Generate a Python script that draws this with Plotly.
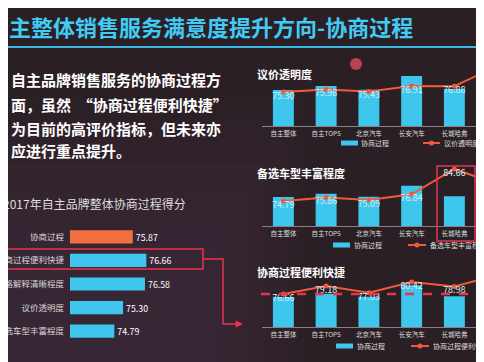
import plotly.graph_objects as go

W, H = 484, 362
def px(x): return x / W
def py(y): return 1 - y / H

FONT = "Noto Sans CJK SC"
BG = "#2a1f24"
CYAN = "#3ec6ec"
ORANGE = "#f07040"
LINE = "#f05a3a"
RED = "#e8334f"
LBL = "#d2f1fa"

# ---------------- data ----------------
left_cats = ["协商过程", "协商过程便利快捷", "价格解释清晰程度", "议价透明度", "备选车型丰富程度"]
left_vals = [75.87, 76.66, 76.58, 75.30, 74.79]

brands = ["自主整体", "自主TOP5", "北京汽车", "长安汽车", "长城哈弗", "广汽传祺"]
brand_process = [75.87, 76.52, 75.90, 78.16, 76.04, 80.28]      # 协商过程 (bars)
price_transparency = [75.30, 75.98, 75.43, 76.91, 76.88, 82.30]  # 议价透明度
model_richness = [74.79, 75.86, 75.09, 76.84, 84.66, 80.00]      # 备选车型丰富程度
convenience = [76.66, 79.18, 77.03, 80.42, 78.98, 82.60]         # 协商过程便利快捷

bar_series_name = "协商过程"
panel_titles = ["议价透明度", "备选车型丰富程度", "协商过程便利快捷"]
panel_lines = [price_transparency, model_richness, convenience]

fig = go.Figure()

# ---------------- left horizontal bar chart ----------------
fig.add_trace(go.Bar(
    x=left_vals, y=left_cats, orientation="h",
    marker=dict(color=[ORANGE] + [CYAN] * 4, line=dict(width=0)),
    width=0.56,
    text=[f"{v:.2f}" for v in left_vals], textposition="outside",
    textfont=dict(color="white", size=10, family=FONT),
    cliponaxis=False, showlegend=False, xaxis="x", yaxis="y",
))

# ---------------- right panels ----------------
panels = [("x2", "y2", "y3"), ("x3", "y4", "y5"), ("x4", "y6", "y7")]
for (xa, yb, yl), title, vals in zip(panels, panel_titles, panel_lines):
    fig.add_trace(go.Bar(
        x=list(range(len(brands))), y=brand_process, name=bar_series_name,
        marker=dict(color=CYAN, line=dict(width=0)), width=0.49,
        xaxis=xa, yaxis=yb, showlegend=False,
    ))
    fig.add_trace(go.Scatter(
        x=list(range(len(brands))), y=vals, name=title, mode="lines+markers",
        line=dict(color=LINE, width=2), marker=dict(color=LINE, size=5),
        xaxis=xa, yaxis=yl, showlegend=False,
    ))
    fig.add_trace(go.Scatter(
        x=list(range(len(brands))), y=vals, mode="text",
        text=[f"{v:.2f}" for v in vals], textposition="bottom center",
        textfont=dict(color=LBL, size=9, family=FONT),
        xaxis=xa, yaxis=yl, showlegend=False,
    ))

layout_axes = {}
layout_axes["xaxis"] = dict(domain=[px(62), px(240)], range=[72.2, 82.6], visible=False,
                            anchor="y", automargin=False)
layout_axes["yaxis"] = dict(domain=[py(335), py(217)], anchor="x", autorange="reversed",
                            showgrid=False, showline=False, zeroline=False, ticks="",
                            ticklabelstandoff=5, automargin=False,
                            tickfont=dict(size=8.5, color="#d8d8d8", family=FONT))

panel_geom = [  # (top px, baseline px, bar range, line range)
    (52, 118, [70, 80.77], [66.11, 83.95]),
    (155, 218, [70, 82.75], [67.07, 86.50]),
    (258, 319, [70, 81.94], [66.31, 85.43]),
]
for (xa, yb, yl), (top, base, br, lr) in zip(panels, panel_geom):
    layout_axes["xaxis" + xa[1:]] = dict(
        domain=[px(254), 1], range=[-0.5, 4.88], anchor=yb, automargin=False,
        tickmode="array", tickvals=list(range(len(brands))), ticktext=brands,
        showline=True, linecolor="#8a8088", linewidth=1, showgrid=False,
        zeroline=False, ticks="", ticklabelstandoff=1,
        tickfont=dict(size=6.5, color="#dcdcdc", family=FONT))
    layout_axes["yaxis" + yb[1:]] = dict(domain=[py(base), py(top)], range=br, visible=False,
                                         anchor=xa, automargin=False)
    layout_axes["yaxis" + yl[1:]] = dict(overlaying=yb, range=lr, visible=False, anchor=xa,
                                         side="right", automargin=False)

annotations = [
    dict(text="<b>主整体销售服务满意度提升方向-协商过程</b>", x=px(-1), y=py(18),
         xanchor="left", yanchor="middle", font=dict(size=22, color="#42cbf2", family=FONT)),
    dict(text="2017年自主品牌整体协商过程得分", x=px(-7), y=py(196), xanchor="left", yanchor="middle",
         font=dict(size=12, color="#dedede", family=FONT)),
]
para = ["自主品牌销售服务的协商过程方", "面，虽然  “协商过程便利快捷”", "为目前的高评价指标，但未来亦", "应进行重点提升。"]
for t, yy in zip(para, [72, 96, 120, 143]):
    annotations.append(dict(text=f"<b>{t}</b>", x=px(1), y=py(yy), xanchor="left", yanchor="middle",
                            font=dict(size=15, color="white", family=FONT)))
for t, yy in zip(panel_titles, [66, 165, 264]):
    annotations.append(dict(text=f"<b>{t}</b>", x=px(247), y=py(yy), xanchor="left", yanchor="middle",
                            font=dict(size=11, color="white", family=FONT)))
for yy in [128, 230, 330]:
    annotations.append(dict(text=brands[-1], x=px(490), y=py(yy), xanchor="center", yanchor="middle",
                            font=dict(size=6.5, color="#dcdcdc", family=FONT)))

shapes = []
# soft purple tint toward the lower-left of the photographed slide
for i in range(8):
    shapes.append(dict(type="rect", xref="paper", yref="paper", layer="below",
                       x0=-0.01, x1=px(300 - i * 14), y0=-0.01, y1=py(90 + i * 22),
                       fillcolor="#4a3552", opacity=0.08, line=dict(width=0)))

# legends (drawn per panel): (bar symbol x0, bar text x, line x0, line x1, line text x, y)
legend_geom = [(333, 351, 415, 432, 434, 135), (325, 344, 400, 418, 420, 237), (328, 347, 403, 421, 423, 338)]
for (bx, btx, lx0, lx1, ltx, ly), title in zip(legend_geom, panel_titles):
    shapes.append(dict(type="rect", xref="paper", yref="paper", x0=px(bx), x1=px(bx + 17),
                       y0=py(ly + 2.5), y1=py(ly - 2.5), fillcolor=CYAN, line=dict(width=0)))
    shapes.append(dict(type="line", xref="paper", yref="paper", x0=px(lx0), x1=px(lx1),
                       y0=py(ly), y1=py(ly), line=dict(color=LINE, width=2)))
    cx = (lx0 + lx1) / 2
    shapes.append(dict(type="circle", xref="paper", yref="paper", x0=px(cx - 2.5), x1=px(cx + 2.5),
                       y0=py(ly + 2.5), y1=py(ly - 2.5), fillcolor=LINE, line=dict(width=0)))
    annotations.append(dict(text=bar_series_name, x=px(btx), y=py(ly), xanchor="left", yanchor="middle",
                            font=dict(size=7, color="#dcdcdc", family=FONT)))
    annotations.append(dict(text=title, x=px(ltx), y=py(ly), xanchor="left", yanchor="middle",
                            font=dict(size=7, color="#dcdcdc", family=FONT)))

for a in annotations:
    a.update(xref="paper", yref="paper", showarrow=False)

def P(x, y): return f"{px(x):.5f},{py(y):.5f}"

shapes += [
    dict(type="line", xref="paper", yref="paper", x0=0, x1=1, y0=py(39), y1=py(39),
         line=dict(color="#3cb8e6", width=2)),
    dict(type="rect", xref="paper", yref="paper", x0=px(-3), x1=px(195), y0=py(261), y1=py(241),
         line=dict(color=RED, width=1.5)),
    dict(type="path", xref="paper", yref="paper",
         path=f"M{P(195,251)} L{P(215,251)} L{P(215,316)} L{P(229,316)}",
         line=dict(color=RED, width=1.5)),
    dict(type="path", xref="paper", yref="paper",
         path=f"M{P(228,313)} L{P(234,316)} L{P(228,319)} Z",
         fillcolor=RED, line=dict(color=RED, width=1)),
    dict(type="rect", xref="paper", yref="paper", x0=px(471), x1=px(492), y0=py(130), y1=py(53),
         line=dict(color=RED, width=1.5)),
    dict(type="rect", xref="paper", yref="paper", x0=px(429), x1=px(467), y0=py(233), y1=py(158),
         line=dict(color=RED, width=1.5)),
    dict(type="line", xref="paper", yref="y7", x0=px(253), x1=1, y0=convenience[0], y1=convenience[0],
         line=dict(color=RED, width=2.5, dash="dash"), layer="above"),
    dict(type="circle", xref="paper", yref="paper", x0=px(342), x1=px(354), y0=py(62), y1=py(50),
         fillcolor="#e04a60", line=dict(width=0), opacity=0.8),
    dict(type="rect", xref="paper", yref="paper", x0=px(479), x1=1.01, y0=-0.01, y1=py(338),
         fillcolor="#050505", line=dict(width=0)),
]

fig.update_layout(
    width=W, height=H, margin=dict(l=0, r=0, t=0, b=0, autoexpand=False),
    paper_bgcolor=BG, plot_bgcolor="rgba(0,0,0,0)",
    font=dict(family=FONT, color="white"),
    showlegend=False,
    annotations=annotations, shapes=shapes,
    **layout_axes,
)

fig.write_html("out.html")
